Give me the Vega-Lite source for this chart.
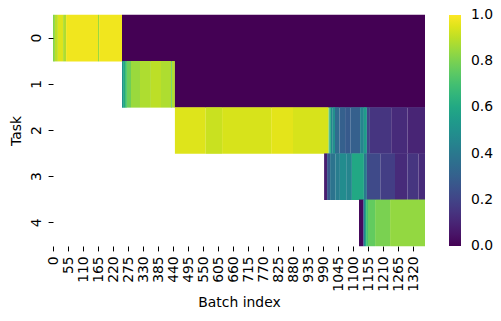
{
  "$schema": "https://vega.github.io/schema/vega-lite/v6.json",
  "width": 372,
  "height": 231,
  "autosize": {"type": "none"},
  "padding": {"left": 53, "top": 15, "right": 76, "bottom": 75},
  "config": {"view": {"stroke": null}, "font": "DejaVu Sans"},
  "data": {
    "values": [
      {"task": 0, "start": 0, "end": 7, "value": 0.82},
      {"task": 0, "start": 7, "end": 18, "value": 0.9},
      {"task": 0, "start": 18, "end": 37, "value": 0.95},
      {"task": 0, "start": 37, "end": 48, "value": 0.88},
      {"task": 0, "start": 48, "end": 165, "value": 0.98},
      {"task": 0, "start": 165, "end": 169, "value": 0.85},
      {"task": 0, "start": 169, "end": 253, "value": 0.98},
      {"task": 0, "start": 253, "end": 1364, "value": 0.0},
      {"task": 1, "start": 253, "end": 257, "value": 0.5},
      {"task": 1, "start": 257, "end": 264, "value": 0.6},
      {"task": 1, "start": 264, "end": 271, "value": 0.7},
      {"task": 1, "start": 271, "end": 286, "value": 0.78},
      {"task": 1, "start": 286, "end": 319, "value": 0.85},
      {"task": 1, "start": 319, "end": 359, "value": 0.88},
      {"task": 1, "start": 359, "end": 396, "value": 0.9},
      {"task": 1, "start": 396, "end": 433, "value": 0.88},
      {"task": 1, "start": 433, "end": 436, "value": 0.75},
      {"task": 1, "start": 436, "end": 447, "value": 0.88},
      {"task": 1, "start": 447, "end": 1364, "value": 0.0},
      {"task": 2, "start": 447, "end": 560, "value": 0.95},
      {"task": 2, "start": 560, "end": 620, "value": 0.92},
      {"task": 2, "start": 620, "end": 800, "value": 0.94},
      {"task": 2, "start": 800, "end": 880, "value": 0.96},
      {"task": 2, "start": 880, "end": 1010, "value": 0.94},
      {"task": 2, "start": 1010, "end": 1013, "value": 0.8},
      {"task": 2, "start": 1013, "end": 1019, "value": 0.62},
      {"task": 2, "start": 1019, "end": 1026, "value": 0.45},
      {"task": 2, "start": 1026, "end": 1034, "value": 0.5},
      {"task": 2, "start": 1034, "end": 1050, "value": 0.35},
      {"task": 2, "start": 1050, "end": 1071, "value": 0.3},
      {"task": 2, "start": 1071, "end": 1090, "value": 0.28},
      {"task": 2, "start": 1090, "end": 1126, "value": 0.3},
      {"task": 2, "start": 1126, "end": 1140, "value": 0.45},
      {"task": 2, "start": 1140, "end": 1151, "value": 0.55},
      {"task": 2, "start": 1151, "end": 1162, "value": 0.2},
      {"task": 2, "start": 1162, "end": 1240, "value": 0.15},
      {"task": 2, "start": 1240, "end": 1300, "value": 0.12},
      {"task": 2, "start": 1300, "end": 1364, "value": 0.1},
      {"task": 3, "start": 994, "end": 1005, "value": 0.08},
      {"task": 3, "start": 1005, "end": 1016, "value": 0.28},
      {"task": 3, "start": 1016, "end": 1035, "value": 0.38},
      {"task": 3, "start": 1035, "end": 1052, "value": 0.42},
      {"task": 3, "start": 1052, "end": 1075, "value": 0.48},
      {"task": 3, "start": 1075, "end": 1096, "value": 0.45},
      {"task": 3, "start": 1096, "end": 1140, "value": 0.6},
      {"task": 3, "start": 1140, "end": 1151, "value": 0.4},
      {"task": 3, "start": 1151, "end": 1200, "value": 0.22},
      {"task": 3, "start": 1200, "end": 1254, "value": 0.18},
      {"task": 3, "start": 1254, "end": 1300, "value": 0.12},
      {"task": 3, "start": 1300, "end": 1340, "value": 0.15},
      {"task": 3, "start": 1340, "end": 1364, "value": 0.12},
      {"task": 4, "start": 1122, "end": 1137, "value": 0.02},
      {"task": 4, "start": 1137, "end": 1140, "value": 0.25},
      {"task": 4, "start": 1140, "end": 1144, "value": 0.45},
      {"task": 4, "start": 1144, "end": 1148, "value": 0.6},
      {"task": 4, "start": 1148, "end": 1155, "value": 0.7},
      {"task": 4, "start": 1155, "end": 1181, "value": 0.76},
      {"task": 4, "start": 1181, "end": 1236, "value": 0.8},
      {"task": 4, "start": 1236, "end": 1364, "value": 0.84}
    ]
  },
  "mark": {"type": "rect", "strokeWidth": 0, "height": {"band": 1.01}},
  "encoding": {
    "x": {
      "field": "start",
      "type": "quantitative",
      "scale": {"domain": [0, 1364], "nice": false, "zero": false},
      "axis": {
        "title": "Batch index",
        "values": [0.5, 55.5, 110.5, 165.5, 220.5, 275.5, 330.5, 385.5, 440.5, 495.5, 550.5, 605.5, 660.5, 715.5, 770.5, 825.5, 880.5, 935.5, 990.5, 1045.5, 1100.5, 1155.5, 1210.5, 1265.5, 1320.5],
        "labelExpr": "format(datum.value - 0.5, 'd')",
        "labelAngle": 270,
        "labelAlign": "right",
        "labelBaseline": "middle",
        "labelFontSize": 13.9,
        "labelColor": "#000000",
        "labelOverlap": false,
        "labelFlush": false,
        "labelPadding": 4.9,
        "tickSize": 4.9,
        "tickColor": "#000000",
        "domain": false,
        "grid": false,
        "titleFontSize": 13.9,
        "titleFontWeight": "normal",
        "titleColor": "#000000",
        "titlePadding": 4
      }
    },
    "x2": {"field": "end"},
    "y": {
      "field": "task",
      "type": "ordinal",
      "scale": {"paddingInner": 0, "paddingOuter": 0},
      "axis": {
        "title": "Task",
        "labelAngle": 270,
        "labelAlign": "center",
        "labelBaseline": "bottom",
        "labelFontSize": 13.9,
        "labelColor": "#000000",
        "labelPadding": 4.9,
        "tickSize": 4.9,
        "tickColor": "#000000",
        "domain": false,
        "grid": false,
        "titleFontSize": 13.9,
        "titleFontWeight": "normal",
        "titleColor": "#000000",
        "titlePadding": 6
      }
    },
    "color": {
      "field": "value",
      "type": "quantitative",
      "scale": {"scheme": "viridis", "domain": [0, 1]},
      "legend": {
        "title": null,
        "orient": "none",
        "legendX": 396,
        "legendY": 0,
        "padding": 0,
        "direction": "vertical",
        "gradientLength": 231,
        "gradientThickness": 12,
        "gradientStrokeWidth": 0,
        "values": [0, 0.2, 0.4, 0.6, 0.8, 1.0],
        "format": ".1f",
        "labelFontSize": 13.9,
        "labelColor": "#000000",
        "labelOffset": 10,
        "labelOverlap": false,
        "encode": {
          "labels": {
            "enter": {"baseline": {"value": "middle"}},
            "update": {"baseline": {"value": "middle"}}
          }
        }
      }
    }
  }
}
